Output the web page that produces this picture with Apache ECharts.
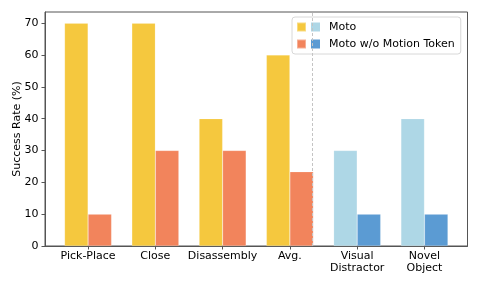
<!DOCTYPE html>
<html>
<head>
<meta charset="utf-8">
<script src="https://cdn.jsdelivr.net/npm/echarts@6/dist/echarts.min.js"></script>
<style>html,body{margin:0;padding:0;background:#fff}#c{width:480px;height:288px}</style>
</head>
<body>
<div id="c"></div>
<script>
const categories = ['Pick-Place', 'Close', 'Disassembly', 'Avg.', 'Visual\nDistractor', 'Novel\nObject'];
const motoValues = [70, 70, 40, 60, 30, 40];
const woValues = [10, 30, 30, 23.33, 10, 10];
const motoColors = ['#F5C83E', '#F5C83E', '#F5C83E', '#F5C83E', '#AED7E6', '#AED7E6'];
const woColors = ['#F2845C', '#F2845C', '#F2845C', '#F2845C', '#5B9BD3', '#5B9BD3'];
const yTicks = [0, 10, 20, 30, 40, 50, 60, 70];
const legendNames = ['Moto', 'Moto w/o Motion Token'];
const separatorAt = 3.5;

const FONT = 'DejaVu Sans';
const chart = echarts.init(document.getElementById('c'), null, {renderer: 'canvas'});
const idx = categories.map((_, i) => i);

function mk(values, colors) {
  return values.map((v, i) => ({value: [i, v], itemStyle: {color: colors[i]}}));
}

chart.setOption({
  animation: false,
  backgroundColor: '#fff',
  textStyle: {fontFamily: FONT},
  grid: {left: 45, right: 12.5, top: 12, bottom: 42, show: true, borderColor: '#555', borderWidth: 1,
    containLabel: false, outerBoundsMode: 'none'},
  legend: {
    data: legendNames,
    orient: 'vertical',
    left: 292, top: 17,
    padding: [4, 6, 4, 4],
    itemGap: 5,
    itemWidth: 9, itemHeight: 9,
    icon: 'rect',
    backgroundColor: 'rgba(255,255,255,0.8)',
    borderColor: '#d8d8d8', borderWidth: 1, borderRadius: 3,
    textStyle: {fontFamily: FONT, fontSize: 11, color: '#000', lineHeight: 12,
      rich: {
        a: {width: 9, height: 9, backgroundColor: '#AED7E6'},
        b: {width: 9, height: 9, backgroundColor: '#5B9BD3'},
        g: {width: 9}
      }
    },
    formatter: function (name) {
      return (name === legendNames[0] ? '{a|}' : '{b|}') + '{g|}' + name;
    }
  },
  xAxis: {
    type: 'value', min: -0.64, max: 5.64,
    splitLine: {show: false},
    axisLine: {show: true, onZero: false, lineStyle: {color: '#555'}},
    axisTick: {show: true, length: 3.5, lineStyle: {color: '#555'}, customValues: idx},
    axisLabel: {customValues: idx, fontFamily: FONT, fontSize: 11, color: '#000', margin: 4.5, lineHeight: 12,
      formatter: v => categories[Math.round(v)] || ''}
  },
  yAxis: {
    type: 'value', min: 0, max: 73.5, interval: 10,
    name: 'Success Rate (%)', nameLocation: 'middle', nameGap: 22, nameMoveOverlap: false,
    nameTextStyle: {fontFamily: FONT, fontSize: 11, color: '#000'},
    splitLine: {show: false},
    axisLine: {show: true, onZero: false, lineStyle: {color: '#555'}},
    axisTick: {show: true, length: 3.5, lineStyle: {color: '#555'}, customValues: yTicks},
    axisLabel: {customValues: yTicks, fontFamily: FONT, fontSize: 11, color: '#000', margin: 6.5}
  },
  series: [
    {
      name: legendNames[0], type: 'bar', barWidth: 23.5, barGap: '0%',
      itemStyle: {color: motoColors[0], borderColor: 'rgba(255,255,255,0.35)', borderWidth: 0.5},
      data: mk(motoValues, motoColors),
      markLine: {
        silent: true, symbol: ['none', 'none'], label: {show: false},
        lineStyle: {color: '#c4c4c4', type: [3, 2], width: 1},
        data: [{xAxis: separatorAt}]
      }
    },
    {
      name: legendNames[1], type: 'bar', barWidth: 23.5, barGap: '0%',
      itemStyle: {color: woColors[0], borderColor: 'rgba(255,255,255,0.35)', borderWidth: 0.5},
      data: mk(woValues, woColors)
    }
  ]
});
</script>
</body>
</html>
